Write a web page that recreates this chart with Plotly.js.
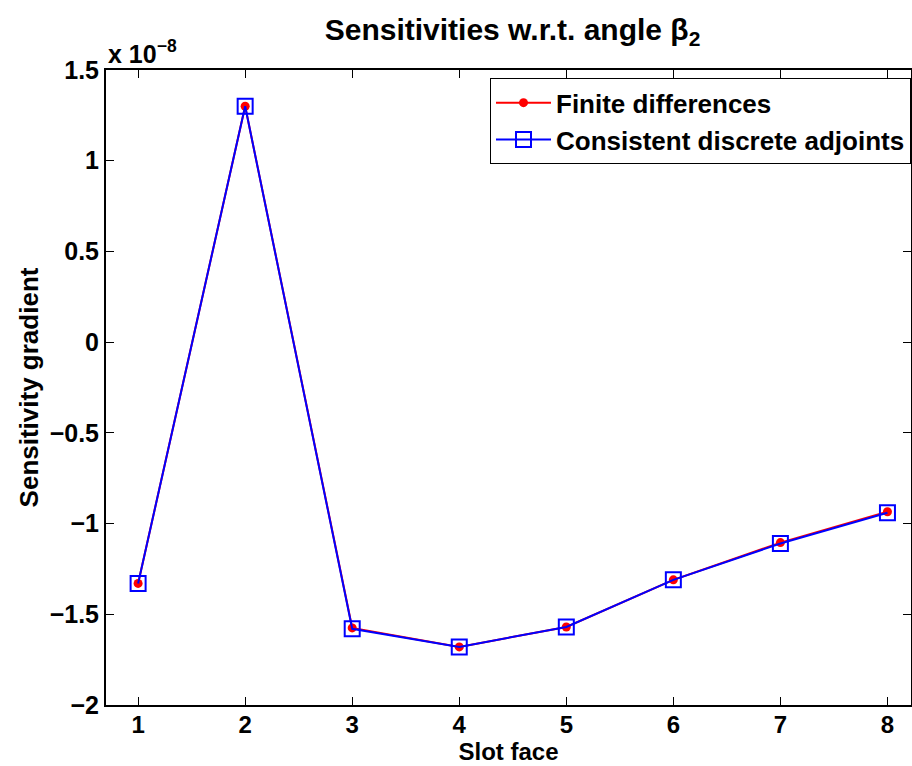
<!DOCTYPE html>
<html>
<head>
<meta charset="utf-8">
<script src="https://cdn.plot.ly/plotly-3.0.1.min.js"></script>
<style>html,body{margin:0;padding:0;background:#fff;}</style>
</head>
<body>
<div id="chart" style="width:912px;height:766px;"></div>
<script>
// Data (values in units of 1e-8)
const slotFaces = [1, 2, 3, 4, 5, 6, 7, 8];
const finiteDifferences = [-1.33, 1.30, -1.575, -1.68, -1.57, -1.31, -1.105, -0.935];
const discreteAdjoints = [-1.33, 1.30, -1.58, -1.68, -1.57, -1.31, -1.11, -0.94];
const yTickVals = [1.5, 1, 0.5, 0, -0.5, -1, -1.5, -2];
const yTickText = ['1.5', '1', '0.5', '0', '\u22120.5', '\u22121', '\u22121.5', '\u22122'];
const xTickVals = [1, 2, 3, 4, 5, 6, 7, 8];

const FONT = 'Liberation Sans, Arial, sans-serif';

const traces = [
  {
    x: slotFaces, y: finiteDifferences, name: '<b>Finite differences</b>',
    mode: 'lines+markers', type: 'scatter',
    line: {color: 'rgb(255,0,0)', width: 2},
    marker: {symbol: 'circle', size: 9, color: 'rgb(255,0,0)'}
  },
  {
    x: slotFaces, y: discreteAdjoints, name: '<b>Consistent discrete adjoints</b>',
    mode: 'lines+markers', type: 'scatter',
    line: {color: 'rgb(0,0,255)', width: 2},
    marker: {symbol: 'square-open', size: 15, color: 'rgb(0,0,255)', line: {width: 2, color: 'rgb(0,0,255)'}}
  }
];

const layout = {
  width: 912, height: 766,
  margin: {l: 106, r: 1, t: 70, b: 61},
  paper_bgcolor: '#fff', plot_bgcolor: '#fff',
  font: {family: FONT, size: 25, color: '#000'},
  title: {
    text: '<b>Sensitivities w.r.t. angle \u03b2<sub>2</sub></b>',
    font: {family: FONT, size: 30, color: '#000'},
    x: 0.505, xanchor: 'center', xref: 'paper', y: 0.962, yanchor: 'middle'
  },
  xaxis: {
    range: [0.7, 8.22], tickvals: xTickVals, ticktext: xTickVals.map(v => '<b>' + v + '</b>'),
    ticks: 'inside', ticklen: 8, tickwidth: 1, tickcolor: '#000',
    showline: true, linecolor: '#000', linewidth: 2, mirror: 'ticks',
    showgrid: false, zeroline: false, ticklabelstandoff: -3,
    tickfont: {family: FONT, size: 24, color: '#000'},
    title: {text: '<b>Slot face</b>', font: {family: FONT, size: 24, color: '#000'}, standoff: 0}
  },
  yaxis: {
    range: [-2, 1.5], tickvals: yTickVals, ticktext: yTickText.map(t => '<b>' + t + '</b>'),
    ticks: 'inside', ticklen: 8, tickwidth: 1, tickcolor: '#000',
    showline: true, linecolor: '#000', linewidth: 2, mirror: 'ticks',
    showgrid: false, zeroline: false,
    tickfont: {family: FONT, size: 25, color: '#000'},
    title: {text: '<b>Sensitivity gradient</b>', font: {family: FONT, size: 26, color: '#000'}, standoff: 4}
  },
  legend: {
    x: 1.0, xanchor: 'right', y: 0.987, yanchor: 'top',
    bgcolor: '#fff', bordercolor: '#000', borderwidth: 1,
    font: {family: FONT, size: 26, color: '#000'},
    itemwidth: 55, tracegroupgap: 0
  },
  annotations: [
    {
      text: '<b>x 10<sup>\u22128</sup></b>', xref: 'paper', yref: 'paper',
      x: 0.0, xanchor: 'left', y: 1.0, yanchor: 'bottom', showarrow: false,
      font: {family: FONT, size: 25, color: '#000'}
    }
  ],
  showlegend: true
};

Plotly.newPlot('chart', traces, layout, {displayModeBar: false, staticPlot: true});
</script>
</body>
</html>
